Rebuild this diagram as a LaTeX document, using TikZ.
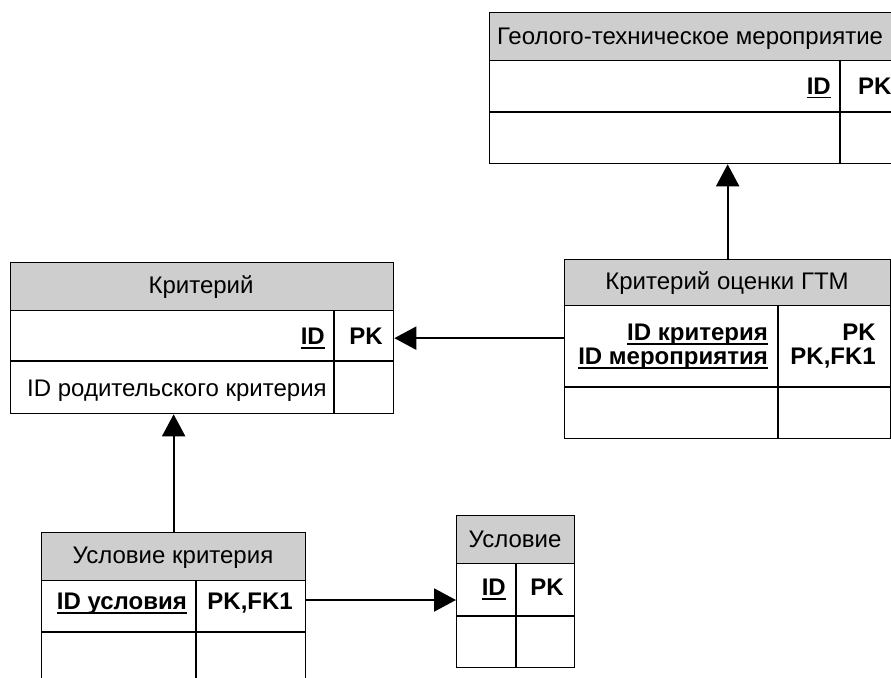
\documentclass[tikz,border=0pt]{standalone}
\usepackage{fontspec}
\setmainfont{Liberation Sans}
\usetikzlibrary{arrows.meta}
\definecolor{hdrgray}{RGB}{206,206,206}
% bold key text with a heavy underline
\newcommand\keyul[1]{\setbox0\hbox{\bfseries #1}\rlap{\rule[-4pt]{\wd0}{1.8pt}}\box0}
\begin{document}
\begin{tikzpicture}[x=1pt,y=-1pt,
  font=\fontsize{24}{29}\selectfont,
  tblbox/.style={draw, line width=1.3pt, rectangle, inner sep=0pt, anchor=north west},
  hdr/.style={tblbox, fill=hdrgray},
  grid/.style={line width=1.3pt},
  cell/.style={inner sep=0pt, text height=17pt, text depth=0pt},
  bcell/.style={cell, font=\fontsize{24}{29}\selectfont\bfseries},
  link/.style={line width=2pt, -{Triangle[length=22pt,width=23pt]}}]
\useasboundingbox (0,0) rectangle (891,677);
\clip (0,0) rectangle (891,677);

% Геолого-техническое мероприятие
\node[tblbox, minimum width=410pt, minimum height=151pt] (gtm) at (489,12) {};
\node[hdr, minimum width=410pt, minimum height=48pt] (gtm-h) at (489,12) {};
\node[cell] (gtm-t) at (690,36) {Геолого-техническое мероприятие};
\draw[grid] (489,112) -- (899,112);
\draw[grid] (840,60) -- (840,163);
\node[cell, anchor=east] (gtm-id) at (831,86) {\keyul{ID}};
\node[bcell, anchor=west] (gtm-pk) at (858,86) {PK};

% Критерий
\node[tblbox, minimum width=383pt, minimum height=151pt] (krit) at (10,262) {};
\node[hdr, minimum width=383pt, minimum height=48pt] (krit-h) at (10,262) {};
\node[cell] (krit-t) at (201,285) {Критерий};
\draw[grid] (10,361) -- (393,361);
\draw[grid] (334,310) -- (334,413);
\node[cell, anchor=east] (krit-id) at (325,336) {\keyul{ID}};
\node[bcell, anchor=east] (krit-pk) at (383,336) {PK};
\node[cell, anchor=west] (krit-par) at (27,388) {ID родительского критерия};

% Критерий оценки ГТМ
\node[tblbox, minimum width=326pt, minimum height=179pt] (ocenka) at (564,259) {};
\node[hdr, minimum width=326pt, minimum height=46pt] (ocenka-h) at (564,259) {};
\node[cell] (ocenka-t) at (727,281) {Критерий оценки ГТМ};
\draw[grid] (564,387) -- (890,387);
\draw[grid] (778,305) -- (778,438);
\node[cell, anchor=east] (ocenka-k1) at (768,332) {\keyul{ID критерия}};
\node[cell, anchor=east] (ocenka-k2) at (768,356) {\keyul{ID мероприятия}};
\node[bcell, anchor=east] (ocenka-p1) at (876,332) {PK};
\node[bcell, anchor=east] (ocenka-p2) at (876,356) {PK,FK1};

% Условие критерия
\node[tblbox, minimum width=264pt, minimum height=152pt] (uk) at (41,532) {};
\node[hdr, minimum width=264pt, minimum height=48pt] (uk-h) at (41,532) {};
\node[cell] (uk-t) at (173,555) {Условие критерия};
\draw[grid] (41,632) -- (305,632);
\draw[grid] (196,580) -- (196,684);
\node[cell, anchor=east] (uk-id) at (187,601) {\keyul{ID условия}};
\node[bcell, anchor=east] (uk-pk) at (293,601) {PK,FK1};

% Условие
\node[tblbox, minimum width=118pt, minimum height=152pt] (usl) at (456,515) {};
\node[hdr, minimum width=118pt, minimum height=48pt] (usl-h) at (456,515) {};
\node[cell] (usl-t) at (515,539) {Условие};
\draw[grid] (456,616) -- (574,616);
\draw[grid] (516,563) -- (516,667);
\node[cell, anchor=east] (usl-id) at (506,587) {\keyul{ID}};
\node[bcell, anchor=east] (usl-pk) at (564,587) {PK};

% relationships
\draw[link] (ocenka.north) -- (ocenka.north |- gtm.south);
\draw[link] (ocenka.west |- krit.east) -- (krit.east);
\draw[link] (uk.north) -- (uk.north |- krit.south);
\coordinate (uk-fk) at (305,600);
\draw[link] (uk-fk) -- (usl.west |- uk-fk);
\end{tikzpicture}
\end{document}
